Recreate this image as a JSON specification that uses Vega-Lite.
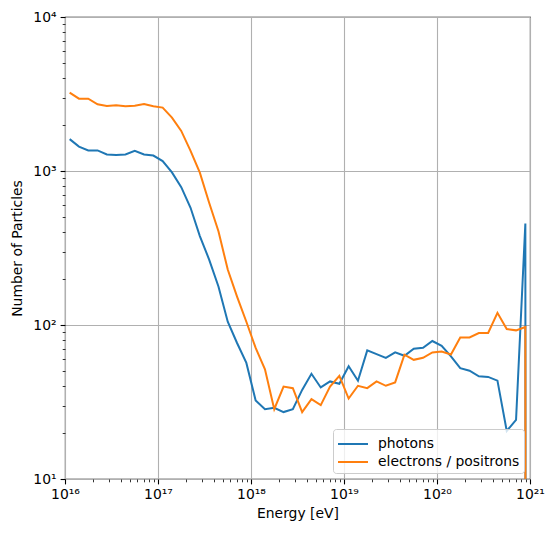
{
  "$schema": "https://vega.github.io/schema/vega-lite/v6.json",
  "width": 465,
  "height": 462,
  "autosize": {"type": "none"},
  "padding": {"left": 65, "top": 17, "right": 25, "bottom": 58},
  "config": {
    "font": "DejaVu Sans",
    "view": {"stroke": "#000000", "strokeWidth": 1.1},
    "axis": {
      "domain": false,
      "labelFont": "DejaVu Sans",
      "labelFontSize": 13.9,
      "labelColor": "#000000",
      "titleFont": "DejaVu Sans",
      "titleFontSize": 13.9,
      "titleFontWeight": "normal",
      "titleColor": "#000000",
      "tickColor": "#000000",
      "gridColor": "#b0b0b0",
      "gridWidth": 1.1,
      "labelFlush": false,
      "labelOverlap": false,
      "labelBound": false
    },
    "legend": {
      "orient": "bottom-right",
      "offset": 6,
      "labelFont": "DejaVu Sans",
      "labelFontSize": 13.9,
      "labelColor": "#000000",
      "symbolType": "M-1,0H2",
      "symbolSize": 400,
      "symbolStrokeWidth": 2,
      "symbolFillColor": "transparent",
      "labelOffset": 19,
      "rowPadding": 0,
      "padding": 4,
      "fillColor": "rgba(255,255,255,0.8)",
      "strokeColor": "#cccccc",
      "cornerRadius": 3,
      "labelLimit": 0
    }
  },
  "data": {
    "values": [
      {"E": 1.122e16, "photons": 1610, "electrons / positrons": 3230},
      {"E": 1.413e16, "photons": 1440, "electrons / positrons": 2950},
      {"E": 1.778e16, "photons": 1360, "electrons / positrons": 2950},
      {"E": 2.239e16, "photons": 1360, "electrons / positrons": 2710},
      {"E": 2.818e16, "photons": 1280, "electrons / positrons": 2640},
      {"E": 3.548e16, "photons": 1270, "electrons / positrons": 2670},
      {"E": 4.467e16, "photons": 1280, "electrons / positrons": 2630},
      {"E": 5.623e16, "photons": 1350, "electrons / positrons": 2650},
      {"E": 7.079e16, "photons": 1280, "electrons / positrons": 2720},
      {"E": 8.913e16, "photons": 1260, "electrons / positrons": 2630},
      {"E": 1.122e17, "photons": 1160, "electrons / positrons": 2580},
      {"E": 1.413e17, "photons": 980, "electrons / positrons": 2220},
      {"E": 1.778e17, "photons": 785, "electrons / positrons": 1820},
      {"E": 2.239e17, "photons": 577, "electrons / positrons": 1350},
      {"E": 2.818e17, "photons": 378, "electrons / positrons": 975},
      {"E": 3.548e17, "photons": 266, "electrons / positrons": 622},
      {"E": 4.467e17, "photons": 178, "electrons / positrons": 406},
      {"E": 5.623e17, "photons": 105, "electrons / positrons": 229},
      {"E": 7.079e17, "photons": 76.4, "electrons / positrons": 153},
      {"E": 8.913e17, "photons": 56.7, "electrons / positrons": 105},
      {"E": 1.122e18, "photons": 32.4, "electrons / positrons": 71},
      {"E": 1.413e18, "photons": 28.4, "electrons / positrons": 51.5},
      {"E": 1.778e18, "photons": 29.0, "electrons / positrons": 28.4},
      {"E": 2.239e18, "photons": 27.2, "electrons / positrons": 39.8},
      {"E": 2.818e18, "photons": 28.4, "electrons / positrons": 38.9},
      {"E": 3.548e18, "photons": 37.9, "electrons / positrons": 27.2},
      {"E": 4.467e18, "photons": 48.2, "electrons / positrons": 33.0},
      {"E": 5.623e18, "photons": 39.3, "electrons / positrons": 30.2},
      {"E": 7.079e18, "photons": 43.0, "electrons / positrons": 39.8},
      {"E": 8.913e18, "photons": 41.5, "electrons / positrons": 46.8},
      {"E": 1.122e19, "photons": 54.0, "electrons / positrons": 33.3},
      {"E": 1.413e19, "photons": 43.5, "electrons / positrons": 40.3},
      {"E": 1.778e19, "photons": 68.4, "electrons / positrons": 38.9},
      {"E": 2.239e19, "photons": 64.7, "electrons / positrons": 43.0},
      {"E": 2.818e19, "photons": 61.2, "electrons / positrons": 40.3},
      {"E": 3.548e19, "photons": 66.4, "electrons / positrons": 42.4},
      {"E": 4.467e19, "photons": 63.1, "electrons / positrons": 64.1},
      {"E": 5.623e19, "photons": 70.2, "electrons / positrons": 59.4},
      {"E": 7.079e19, "photons": 71.1, "electrons / positrons": 61.2},
      {"E": 8.913e19, "photons": 78.7, "electrons / positrons": 66.4},
      {"E": 1.122e20, "photons": 73.3, "electrons / positrons": 67.3},
      {"E": 1.413e20, "photons": 62.5, "electrons / positrons": 64.4},
      {"E": 1.778e20, "photons": 52.5, "electrons / positrons": 83.0},
      {"E": 2.239e20, "photons": 50.5, "electrons / positrons": 83.0},
      {"E": 2.818e20, "photons": 46.4, "electrons / positrons": 88.7},
      {"E": 3.548e20, "photons": 46.0, "electrons / positrons": 88.7},
      {"E": 4.467e20, "photons": 43.5, "electrons / positrons": 120},
      {"E": 5.623e20, "photons": 20.5, "electrons / positrons": 94.2},
      {"E": 7.079e20, "photons": 24.2, "electrons / positrons": 92.3},
      {"E": 8.913e20, "photons": 456, "electrons / positrons": 97.1},
      {"E": 1.122e21, "photons": 1e-100, "electrons / positrons": 1e-100}
    ]
  },
  "transform": [
    {"fold": ["photons", "electrons / positrons"], "as": ["series", "N"]}
  ],
  "mark": {"type": "line", "strokeWidth": 2, "clip": true},
  "encoding": {
    "x": {
      "field": "E",
      "type": "quantitative",
      "scale": {"type": "log", "domain": [1e16, 1e21], "nice": false},
      "axis": {
        "title": "Energy [eV]",
        "grid": true,
        "values": [1e16, 2e16, 3e16, 4e16, 5e16, 6e16, 7e16, 8e16, 9e16,
                   1e17, 2e17, 3e17, 4e17, 5e17, 6e17, 7e17, 8e17, 9e17,
                   1e18, 2e18, 3e18, 4e18, 5e18, 6e18, 7e18, 8e18, 9e18,
                   1e19, 2e19, 3e19, 4e19, 5e19, 6e19, 7e19, 8e19, 9e19,
                   1e20, 2e20, 3e20, 4e20, 5e20, 6e20, 7e20, 8e20, 9e20, 1e21],
        "labelExpr": "datum.value==1e16?'10¹⁶':datum.value==1e17?'10¹⁷':datum.value==1e18?'10¹⁸':datum.value==1e19?'10¹⁹':datum.value==1e20?'10²⁰':datum.value==1e21?'10²¹':''",
        "tickSize": {"condition": {"test": "indexof([1e16,1e17,1e18,1e19,1e20,1e21], datum.value) >= 0", "value": 4.9}, "value": 2.8},
        "tickWidth": {"condition": {"test": "indexof([1e16,1e17,1e18,1e19,1e20,1e21], datum.value) >= 0", "value": 1.1}, "value": 0.8},
        "gridOpacity": {"condition": {"test": "indexof([1e16,1e17,1e18,1e19,1e20,1e21], datum.value) >= 0", "value": 1}, "value": 0},
        "labelPadding": 4,
        "titlePadding": 5
      }
    },
    "y": {
      "field": "N",
      "type": "quantitative",
      "scale": {"type": "log", "domain": [10, 10000], "nice": false},
      "axis": {
        "title": "Number of Particles",
        "grid": true,
        "values": [10, 20, 30, 40, 50, 60, 70, 80, 90,
                   100, 200, 300, 400, 500, 600, 700, 800, 900,
                   1000, 2000, 3000, 4000, 5000, 6000, 7000, 8000, 9000, 10000],
        "labelExpr": "datum.value==10?'10¹':datum.value==100?'10²':datum.value==1000?'10³':datum.value==10000?'10⁴':''",
        "tickSize": {"condition": {"test": "indexof([10,100,1000,10000], datum.value) >= 0", "value": 4.9}, "value": 2.8},
        "tickWidth": {"condition": {"test": "indexof([10,100,1000,10000], datum.value) >= 0", "value": 1.1}, "value": 0.8},
        "gridOpacity": {"condition": {"test": "indexof([10,100,1000,10000], datum.value) >= 0", "value": 1}, "value": 0},
        "labelPadding": 4,
        "titlePadding": 8
      }
    },
    "color": {
      "field": "series",
      "type": "nominal",
      "scale": {"domain": ["photons", "electrons / positrons"], "range": ["#1f77b4", "#ff7f0e"]},
      "legend": {"title": null}
    }
  }
}
